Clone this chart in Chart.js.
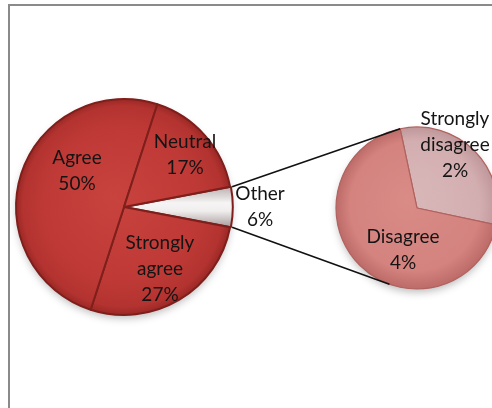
<!DOCTYPE html>
<html>
<head>
<meta charset="utf-8">
<script src="https://cdn.jsdelivr.net/npm/chart.js@4.4.1/dist/chart.umd.min.js"></script>
<style>
  html, body { margin: 0; padding: 0; background: #fff; overflow: hidden; }
  #wrap { position: relative; width: 492px; height: 408px; overflow: hidden; }
  #frame { position: absolute; left: 8px; top: 4px; width: 600px; height: 500px;
           border-left: 2px solid #8a8a8a; border-top: 2px solid #8a8a8a; }
  canvas { position: absolute; left: 0; top: 0; }
</style>
</head>
<body>
<div id="wrap">
  <div id="frame"></div>
  <canvas id="mainPie" width="492" height="408"></canvas>
  <canvas id="subPie" width="520" height="408"></canvas>
</div>
<script>
// main pie (clockwise from the "Other" slice)
var mainLabels = ["Other", "Strongly agree", "Agree", "Neutral"];
var mainValues = [6, 27, 50, 17];
var mainText = [["Other", "6%"], ["Strongly", "agree", "27%"], ["Agree", "50%"], ["Neutral", "17%"]];

// secondary pie, splitting "Other"
var subLabels = ["Strongly disagree", "Disagree"];
var subValues = [1.9, 4.1];
var subText = [["Strongly", "disagree", "2%"], ["Disagree", "4%"]];

// label block offsets from the pie centre (layout only)
var mainLabelOffsets = [[136, 0], [36, 62], [-47, -36], [61, -52]];
var subLabelOffsets = [[38, -63], [-14, 42]];

var FONT = "19px Lato, 'Open Sans', sans-serif";
var LINE_H = 26;

// pie centre + radius from the chart area (valid once layout ran)
function pieGeom(chart) {
  var a = chart.chartArea;
  if (!a || !isFinite(a.left)) return null;
  return { x: (a.left + a.right) / 2, y: (a.top + a.bottom) / 2, r: chart.options.radius };
}

function radialFill(chart, stops) {
  var p = pieGeom(chart);
  if (!p) return stops[1][1];
  var g = chart.ctx.createRadialGradient(p.x - 10, p.y - 10, 0, p.x, p.y, p.r);
  stops.forEach(function (s) { g.addColorStop(s[0], s[1]); });
  return g;
}

var redStops = [[0, "#c8433e"], [0.7, "#bf3a36"], [0.93, "#b33330"], [1, "#9a2825"]];

function mainFill(c) {
  var chart = c.chart;
  if (c.dataIndex === 0) {
    var p = pieGeom(chart);
    if (!p) return "#e6e2e2";
    var h = p.r * Math.sin(Math.PI * 0.06);
    var g = chart.ctx.createLinearGradient(0, p.y - h, 0, p.y + h);
    g.addColorStop(0, "#b9b0b0");
    g.addColorStop(0.4, "#f6f4f4");
    g.addColorStop(0.6, "#f0eded");
    g.addColorStop(1, "#a69c9c");
    return g;
  }
  return radialFill(chart, redStops);
}

function subFill(c) {
  var chart = c.chart;
  if (c.dataIndex === 0) {
    return radialFill(chart, [[0, "#d9b8ba"], [0.8, "#d3aeb0"], [1, "#bf979a"]]);
  }
  return radialFill(chart, [[0, "#d98b86"], [0.8, "#d4837f"], [1, "#bd6b68"]]);
}

// soft shadow under the whole pie
var shadowPlugin = {
  id: "pieShadow",
  beforeDatasetsDraw: function (chart) {
    var arc = chart.getDatasetMeta(0).data[0];
    var ctx = chart.ctx;
    ctx.save();
    ctx.shadowColor = "rgba(0,0,0,0.28)";
    ctx.shadowBlur = 8;
    ctx.shadowOffsetY = 4;
    ctx.fillStyle = "#ffffff";
    ctx.beginPath();
    ctx.arc(arc.x, arc.y, arc.outerRadius - 1, 0, Math.PI * 2);
    ctx.fill();
    ctx.restore();
  }
};

function textPlugin(texts, offsets) {
  return {
    id: "sliceText",
    afterDatasetsDraw: function (chart) {
      var ctx = chart.ctx;
      var arcs = chart.getDatasetMeta(0).data;
      ctx.save();
      ctx.font = FONT;
      ctx.fillStyle = "#141414";
      ctx.textAlign = "center";
      ctx.textBaseline = "middle";
      arcs.forEach(function (arc, i) {
        var lines = texts[i];
        var cx = arc.x + offsets[i][0];
        var cy = arc.y + offsets[i][1] - (lines.length - 1) * LINE_H / 2;
        lines.forEach(function (t, k) { ctx.fillText(t, cx, cy + k * LINE_H); });
      });
      ctx.restore();
    }
  };
}

var mainChart = new Chart(document.getElementById("mainPie"), {
  type: "pie",
  data: {
    labels: mainLabels,
    datasets: [{
      data: mainValues,
      backgroundColor: mainFill,
      borderColor: "#7e1f1c",
      borderWidth: 2,
      offset: [2, 0, 0, 0]
    }]
  },
  options: {
    responsive: false,
    animation: false,
    rotation: 90 - 180 * 0.06,
    radius: 108,
    layout: { padding: { left: 16, right: 260, top: 99, bottom: 93 } },
    plugins: { legend: { display: false }, tooltip: { enabled: false } }
  },
  plugins: [shadowPlugin, textPlugin(mainText, mainLabelOffsets)]
});

// connector lines from the "Other" slice to the secondary pie
var connectorPlugin = {
  id: "connectors",
  afterDatasetsDraw: function (chart) {
    var other = mainChart.getDatasetMeta(0).data[0];
    var sub = chart.getDatasetMeta(0).data[0];
    var ctx = chart.ctx;
    var r0 = other.outerRadius;
    var mid = (other.startAngle + other.endAngle) / 2;
    var ox = other.x + Math.cos(mid) * 2, oy = other.y + Math.sin(mid) * 2;
    var p1 = [ox + r0 * Math.cos(other.startAngle), oy + r0 * Math.sin(other.startAngle)];
    var p2 = [ox + r0 * Math.cos(other.endAngle), oy + r0 * Math.sin(other.endAngle)];
    var R = sub.outerRadius;
    var q1 = [sub.x + R * Math.cos(sub.startAngle), sub.y + R * Math.sin(sub.startAngle)];
    // lower end: tangent point seen from the lower corner of "Other"
    var dx = p2[0] - sub.x, dy = p2[1] - sub.y;
    var d = Math.sqrt(dx * dx + dy * dy);
    var a = Math.atan2(dy, dx) - Math.acos(R / d);
    var q2 = [sub.x + R * Math.cos(a), sub.y + R * Math.sin(a)];
    ctx.save();
    ctx.strokeStyle = "#111";
    ctx.lineWidth = 1.6;
    ctx.beginPath();
    ctx.moveTo(p1[0], p1[1]); ctx.lineTo(q1[0], q1[1]);
    ctx.moveTo(p2[0], p2[1]); ctx.lineTo(q2[0], q2[1]);
    ctx.stroke();
    ctx.restore();
  }
};

var subChart = new Chart(document.getElementById("subPie"), {
  type: "pie",
  data: {
    labels: subLabels,
    datasets: [{
      data: subValues,
      backgroundColor: subFill,
      borderColor: "#b0625f",
      borderWidth: 1.2
    }]
  },
  options: {
    responsive: false,
    animation: false,
    rotation: -12,
    radius: 81,
    layout: { padding: { left: 336, right: 22, top: 127, bottom: 119 } },
    plugins: { legend: { display: false }, tooltip: { enabled: false } }
  },
  plugins: [shadowPlugin, connectorPlugin, textPlugin(subText, subLabelOffsets)]
});
</script>
</body>
</html>
